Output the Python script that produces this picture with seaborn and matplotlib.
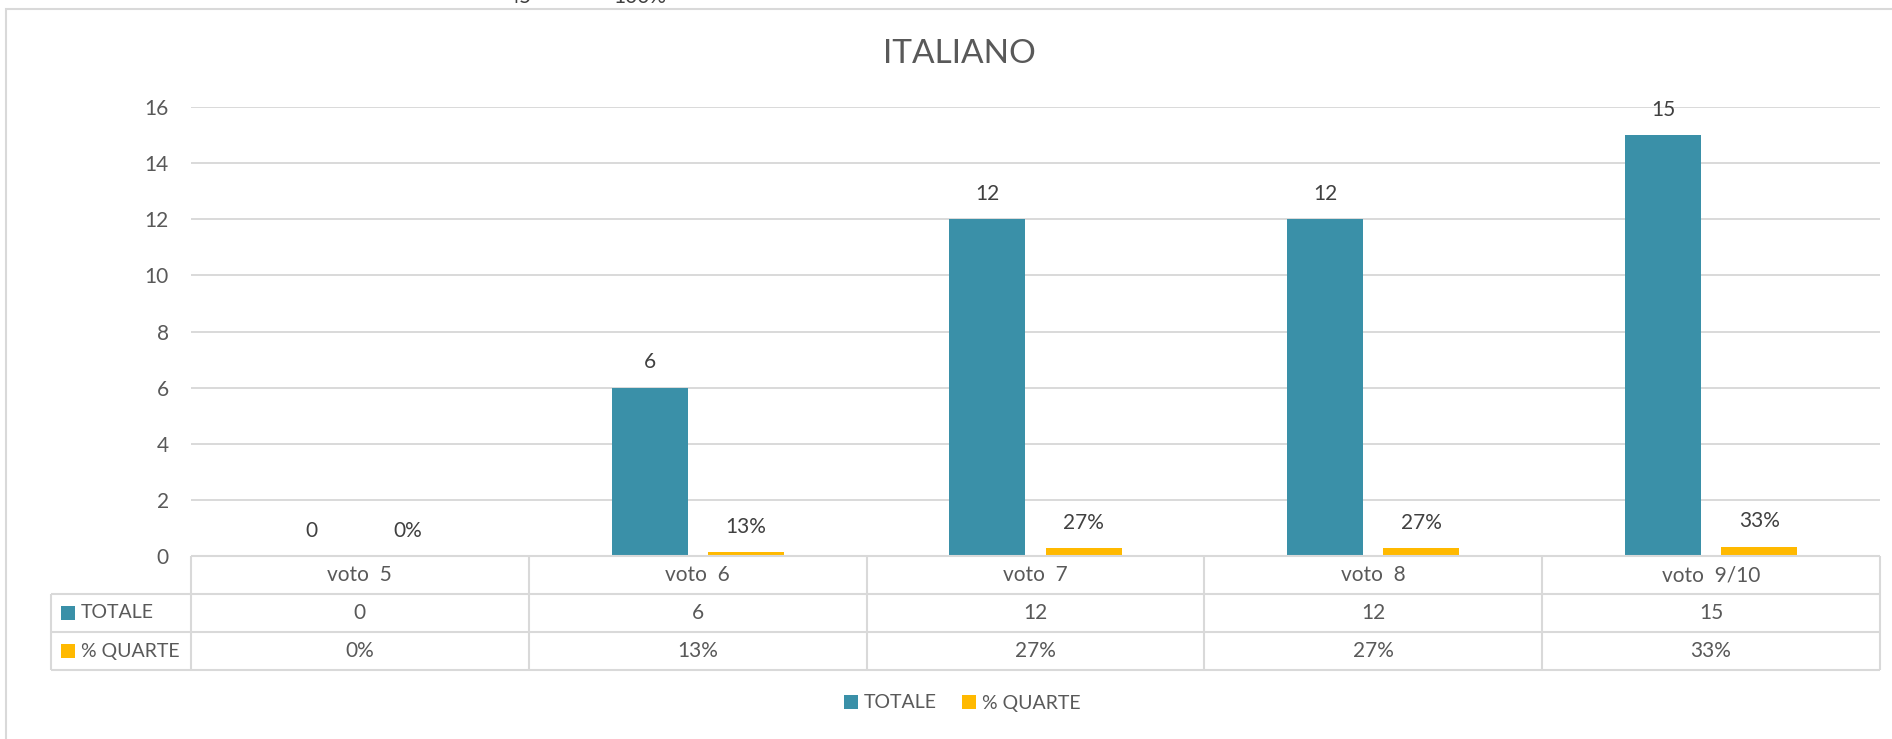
"""Bar chart of the Italian marks (ITALIANO) with the data table under it."""
import matplotlib
matplotlib.use('Agg')
import matplotlib.pyplot as plt
from matplotlib.patches import Rectangle
import seaborn as sb
import pandas as pd

# chart data
categories = ['voto  5', 'voto  6', 'voto  7', 'voto  8', 'voto  9/10']
totale = [0, 6, 12, 12, 15]
quarte = [0.00, 0.13, 0.27, 0.27, 0.33]
series_names = ['TOTALE', '% QUARTE']
y_ticks = [0, 2, 4, 6, 8, 10, 12, 14, 16]

teal = '#3A90A8'
gold = '#FFB900'
grid_grey = '#D9D9D9'
text_grey = '#595959'

W, H = 1892, 739


def fmt_total(v):
    return f'{v:g}'


def fmt_pct(v):
    return f'{round(v * 100)}%'


def main():
    df = pd.DataFrame({
        'voto': categories * 2,
        'valore': totale + quarte,
        'serie': [series_names[0]] * len(categories) + [series_names[1]] * len(categories),
    })

    sb.set_theme(style='white')
    plt.rcParams['font.family'] = ['Lato', 'DejaVu Sans']

    fig = plt.figure(figsize=(W / 100, H / 100), dpi=100)

    # outer chart frame (only top and left edges are inside the picture)
    fig.add_artist(Rectangle((6 / W, -0.1), 1.2, 1 - 9 / H + 0.1,
                             transform=fig.transFigure, fill=False,
                             edgecolor=grid_grey, lw=1.5))

    # main plot area
    ax = fig.add_axes([191 / W, 1 - 556 / H, (1880 - 191) / W, (556 - 107) / H])
    sb.barplot(data=df, x='voto', y='valore', hue='serie',
               palette=[teal, gold], saturation=1, width=0.57, gap=0.21,
               linewidth=0, ax=ax)
    ax.set_xlim(-0.5, len(categories) - 0.5)
    ax.set_ylim(0, 16)
    ax.set_yticks(y_ticks)
    ax.yaxis.grid(True, color=grid_grey, lw=1.4)
    ax.set_axisbelow(True)
    sb.despine(ax=ax, left=True, bottom=True)
    ax.tick_params(axis='y', length=0, pad=16, labelsize=15, labelcolor=text_grey)
    ax.tick_params(axis='x', length=0, labelbottom=False)
    ax.set_xlabel('')
    ax.set_ylabel('')

    # value labels above the bars
    ax.bar_label(ax.containers[0], labels=[fmt_total(v) for v in totale],
                 padding=11, fontsize=15, color='#404040')
    ax.bar_label(ax.containers[1], labels=[fmt_pct(v) for v in quarte],
                 padding=11, fontsize=15, color='#404040')

    # legend at the bottom
    sb.move_legend(ax, 'center', bbox_to_anchor=(962 / W, 1 - 703 / H),
                   bbox_transform=fig.transFigure, ncol=2, frameon=False,
                   title=None, fontsize=14, handlelength=0.72, handleheight=0.72,
                   handletextpad=0.3, columnspacing=1.3, labelcolor=text_grey)

    # title
    fig.text(959 / W, 1 - 54 / H, 'ITALIANO', ha='center', va='center',
             fontsize=24, color=text_grey)

    # cut-off text at the very top of the picture
    fig.text(520 / W, 1 - 3 / H, '45', ha='center', va='baseline',
             fontsize=15, color='#404040')
    fig.text(640 / W, 1 - 3 / H, '100%', ha='center', va='baseline',
             fontsize=15, color='#404040')

    # data table under the plot
    n = len(categories)
    left = -0.5 - 140 / 338
    tab = fig.add_axes([51 / W, 1 - 670 / H, (1880 - 51) / W, (670 - 556) / H])
    tab.set_xlim(left, n - 0.5)
    tab.set_ylim(3, 0)
    tab.axis('off')
    lkw = dict(color=grid_grey, lw=1.5, clip_on=False)
    tab.hlines(0, -0.5, n - 0.5, **lkw)
    tab.hlines([1, 2, 3], left, n - 0.5, **lkw)
    tab.vlines(left, 1, 3, **lkw)
    tab.vlines([i - 0.5 for i in range(n + 1)], 0, 3, **lkw)

    tkw = dict(ha='center', va='center', fontsize=15, color=text_grey)
    for i, cat in enumerate(categories):
        tab.text(i, 0.5, cat, **tkw)
        tab.text(i, 1.5, fmt_total(totale[i]), **tkw)
        tab.text(i, 2.5, fmt_pct(quarte[i]), **tkw)

    for row, (name, col) in enumerate(zip(series_names, [teal, gold])):
        tab.plot(left + 17 / 338, row + 1.5, marker='s', ms=10, color=col,
                 mew=0, clip_on=False)
        tab.text(left + 30 / 338, row + 1.5, name, ha='left', va='center',
                 fontsize=14, color=text_grey)

    fig.savefig('out.png', dpi=100)


if __name__ == '__main__':
    main()
